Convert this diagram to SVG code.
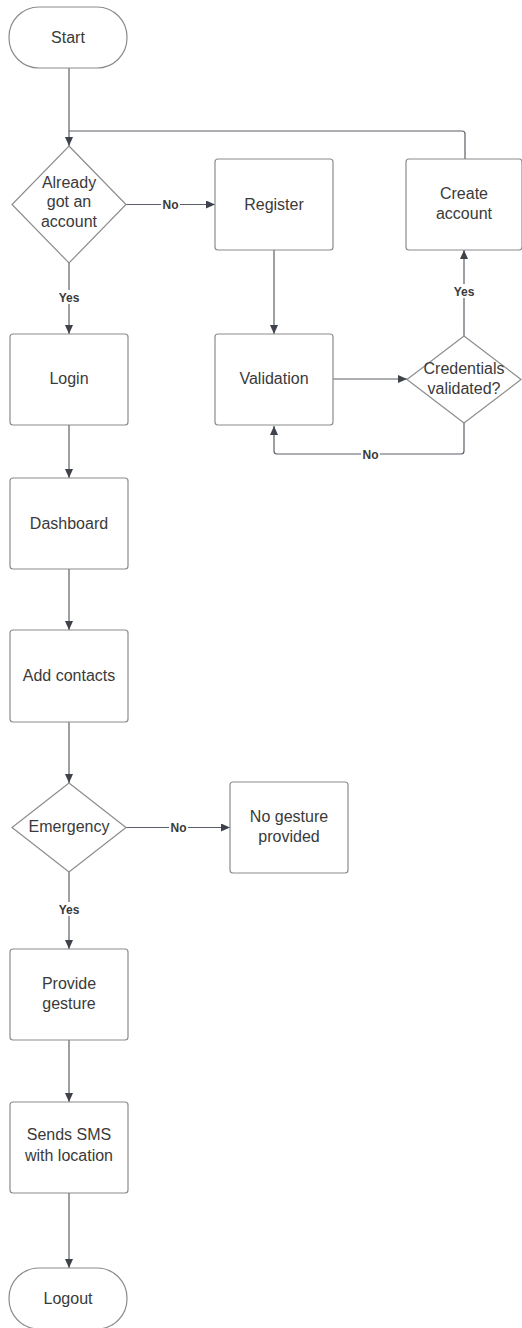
<svg xmlns="http://www.w3.org/2000/svg" width="522" height="1328" viewBox="0 0 522 1328">
<style>
.box{fill:#fff;stroke:#8c8c8c;stroke-width:1.2}
.t{font-family:"Liberation Sans",Arial,sans-serif;font-size:16px;fill:#3a3a3a;text-anchor:middle}
.c{fill:none;stroke:#5a5f66;stroke-width:1.2}
.lb{font-family:"Liberation Sans",Arial,sans-serif;font-size:12px;font-weight:bold;fill:#3a3a3a;text-anchor:middle}
.lbg{fill:#fff}
</style>
<defs>
<marker id="ah" markerUnits="userSpaceOnUse" markerWidth="10" markerHeight="8" refX="9" refY="4" orient="auto">
<path d="M0,0 L9,4 L0,8 z" fill="#3d424b"/>
</marker>
</defs>
<rect width="522" height="1328" fill="#fff"/>
<g id="connectors">
<path class="c" d="M69,68 V146" marker-end="url(#ah)"/>
<path class="c" d="M465,159 V134 Q465,131 462,131 H69"/>
<path class="c" d="M126,204.5 H215" marker-end="url(#ah)"/>
<path class="c" d="M69,263 V334" marker-end="url(#ah)"/>
<path class="c" d="M274,250 V334" marker-end="url(#ah)"/>
<path class="c" d="M333,379 H407" marker-end="url(#ah)"/>
<path class="c" d="M464,336 V250" marker-end="url(#ah)"/>
<path class="c" d="M464,423 V451 Q464,454 461,454 H277 Q274,454 274,451 V426" marker-end="url(#ah)"/>
<path class="c" d="M69,425 V478" marker-end="url(#ah)"/>
<path class="c" d="M69,569 V630" marker-end="url(#ah)"/>
<path class="c" d="M69,722 V783" marker-end="url(#ah)"/>
<path class="c" d="M126,827.5 H230" marker-end="url(#ah)"/>
<path class="c" d="M69,872 V949" marker-end="url(#ah)"/>
<path class="c" d="M69,1040 V1102" marker-end="url(#ah)"/>
<path class="c" d="M69,1193 V1268" marker-end="url(#ah)"/>
<g id="labels">
<rect class="lbg" x="161" y="197" width="19" height="14"/><text class="lb" x="170.5" y="208.5">No</text>
<rect class="lbg" x="57" y="290" width="24" height="14"/><text class="lb" x="69" y="301.5">Yes</text>
<rect class="lbg" x="452" y="284" width="24" height="14"/><text class="lb" x="464" y="295.5">Yes</text>
<rect class="lbg" x="361" y="447" width="19" height="14"/><text class="lb" x="370.5" y="458.5">No</text>
<rect class="lbg" x="169" y="820" width="19" height="14"/><text class="lb" x="178.5" y="831.5">No</text>
<rect class="lbg" x="57" y="902" width="24" height="14"/><text class="lb" x="69" y="913.5">Yes</text>
</g>
</g>
<g id="start"><rect class="box" x="9" y="7" width="118" height="61" rx="30"/><text class="t" x="68" y="43">Start</text></g>
<g id="already"><polygon class="box" points="69,146 126,204.5 69,263 12,204.5"/><text class="t" x="69" y="187.5">Already</text><text class="t" x="69" y="207">got an</text><text class="t" x="69" y="226.5">account</text></g>
<g id="register"><rect class="box" x="215" y="159" width="118" height="91" rx="3"/><text class="t" x="274" y="210">Register</text></g>
<g id="create"><rect class="box" x="406" y="159" width="116" height="91" rx="3"/><text class="t" x="464" y="198.5">Create</text><text class="t" x="464" y="218.5">account</text></g>
<g id="login"><rect class="box" x="10" y="334" width="118" height="91" rx="3"/><text class="t" x="69" y="384">Login</text></g>
<g id="validation"><rect class="box" x="215" y="334" width="118" height="91" rx="3"/><text class="t" x="274" y="384">Validation</text></g>
<g id="credentials"><polygon class="box" points="464,336 521,379.5 464,423 407,379.5"/><text class="t" x="464" y="373.5">Credentials</text><text class="t" x="464" y="393.5">validated?</text></g>
<g id="dashboard"><rect class="box" x="10" y="478" width="118" height="91" rx="3"/><text class="t" x="69" y="528.5">Dashboard</text></g>
<g id="addcontacts"><rect class="box" x="10" y="630" width="118" height="92" rx="3"/><text class="t" x="69" y="680.5">Add contacts</text></g>
<g id="emergency"><polygon class="box" points="69,783 126,827.5 69,872 12,827.5"/><text class="t" x="69" y="831.5">Emergency</text></g>
<g id="nogesture"><rect class="box" x="230" y="782" width="118" height="91" rx="3"/><text class="t" x="289" y="821.5">No gesture</text><text class="t" x="289" y="841.5">provided</text></g>
<g id="provide"><rect class="box" x="10" y="949" width="118" height="91" rx="3"/><text class="t" x="69" y="988.5">Provide</text><text class="t" x="69" y="1008.5">gesture</text></g>
<g id="sends"><rect class="box" x="10" y="1102" width="118" height="91" rx="3"/><text class="t" x="69" y="1139.5">Sends SMS</text><text class="t" x="69" y="1160.5">with location</text></g>
<g id="logout"><rect class="box" x="9" y="1268" width="118" height="61" rx="30"/><text class="t" x="68" y="1303.5">Logout</text></g>
</svg>
